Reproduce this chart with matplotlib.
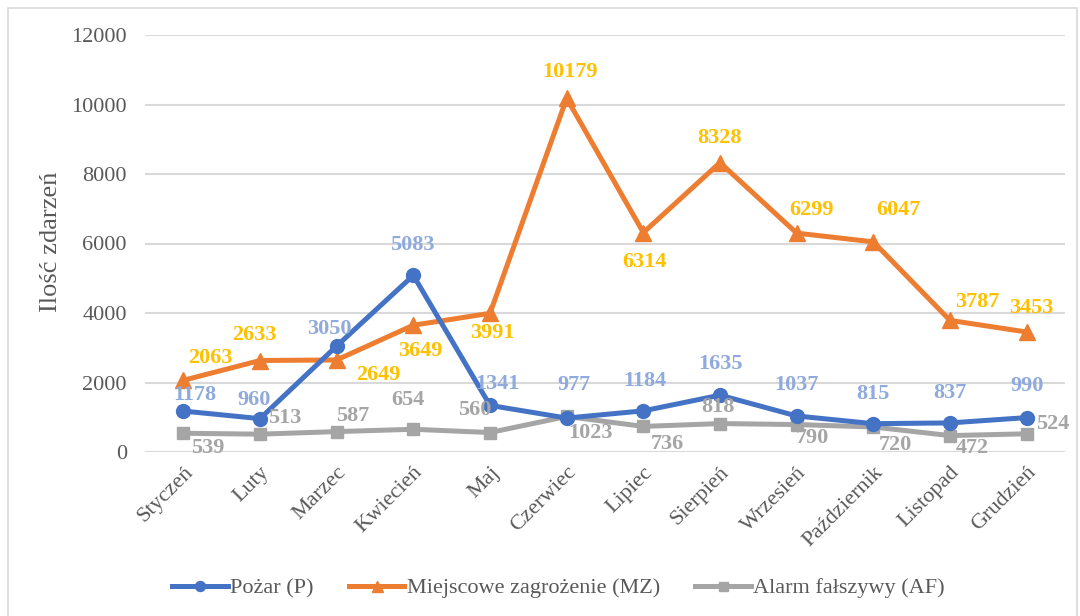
import matplotlib.pyplot as plt
from matplotlib.patches import Rectangle

# dane miesięczne
miesiace = ['Styczeń', 'Luty', 'Marzec', 'Kwiecień', 'Maj', 'Czerwiec', 'Lipiec',
            'Sierpień', 'Wrzesień', 'Październik', 'Listopad', 'Grudzień']
pozar = [1178, 960, 3050, 5083, 1341, 977, 1184, 1635, 1037, 815, 837, 990]
mz = [2063, 2633, 2649, 3649, 3991, 10179, 6314, 8328, 6299, 6047, 3787, 3453]
af = [539, 513, 587, 654, 560, 1023, 736, 818, 790, 720, 472, 524]

# przesunięcia etykiet w pikselach (dx, dy) względem punktu
off_p = [(11, 16), (-6, 19), (-7, 17), (-1, 30), (7, 21), (7, 33), (1, 30), (0, 31),
         (0, 31), (0, 30), (0, 30), (0, 32)]
off_mz = [(27, 22), (-6, 26), (42, -15), (7, -26), (2, -20), (3, 26), (1, -29), (0, 25),
          (15, 23), (25, 32), (27, 18), (5, 24)]
off_af = [(24, -15), (25, 16), (16, 16), (-5, 29), (-15, 23), (24, -17), (24, -18), (-2, 17),
          (16, -13), (22, -18), (22, -12), (26, 10)]

kol_p, kol_mz, kol_af = '#4472c4', '#ed7d31', '#a5a5a5'
etk_p, etk_mz, etk_af = '#8faadc', '#ffc000', '#a5a5a5'
szary = '#595959'

plt.rcParams['font.family'] = ['Liberation Serif', 'DejaVu Serif']

fig = plt.figure(figsize=(10.8, 6.16), dpi=100)
fig.patches.append(Rectangle((8 / 1080, -0.1), 1069 / 1080, 1 - 8 / 616 + 0.1,
                             transform=fig.transFigure, fill=False,
                             edgecolor='#d9d9d9', linewidth=1.2))
ax = fig.add_axes([145 / 1080, 1 - 452 / 616, 920 / 1080, 417 / 616])

x = list(range(len(miesiace)))
ax.plot(x, pozar, color=kol_p, lw=3.6, marker='o', ms=10, label='Pożar (P)', zorder=3)
ax.plot(x, mz, color=kol_mz, lw=3.6, marker='^', ms=11, label='Miejscowe zagrożenie (MZ)', zorder=2)
ax.plot(x, af, color=kol_af, lw=3.6, marker='s', ms=9, label='Alarm fałszywy (AF)', zorder=2)

for seria, offs, kol in [(pozar, off_p, etk_p), (mz, off_mz, etk_mz), (af, off_af, etk_af)]:
    for i, v in enumerate(seria):
        ax.annotate(str(v), (i, v), xytext=offs[i], textcoords='offset pixels',
                    ha='center', va='center', fontsize=16, fontweight='bold',
                    color=kol, zorder=5)

ax.set_xlim(-0.5, 11.5)
ax.set_ylim(0, 12000)
ax.set_yticks(range(0, 12001, 2000))
ax.set_xticks(x)
ax.set_xticklabels(miesiace, rotation=45, ha='right', rotation_mode='anchor')
ax.tick_params(axis='both', length=0, labelsize=16, colors=szary)
ax.tick_params(axis='x', pad=8)
ax.tick_params(axis='y', pad=13)
ax.grid(axis='y', color='#d9d9d9', lw=1.5)
ax.set_axisbelow(True)
for s in ax.spines.values():
    s.set_visible(False)

ax.set_ylabel('Ilość zdarzeń', fontsize=19, color=szary)
ax.yaxis.set_label_coords(-0.09, 0.505)

leg = fig.legend(loc='center', bbox_to_anchor=(0.517, 1 - 588 / 616), ncol=3, frameon=False,
                 prop={'family': ['Liberation Serif'], 'size': 16}, labelcolor=szary,
                 handlelength=2.5, columnspacing=1.6, handletextpad=0.1, markerscale=0.72)

fig.savefig('out.png', dpi=100)
